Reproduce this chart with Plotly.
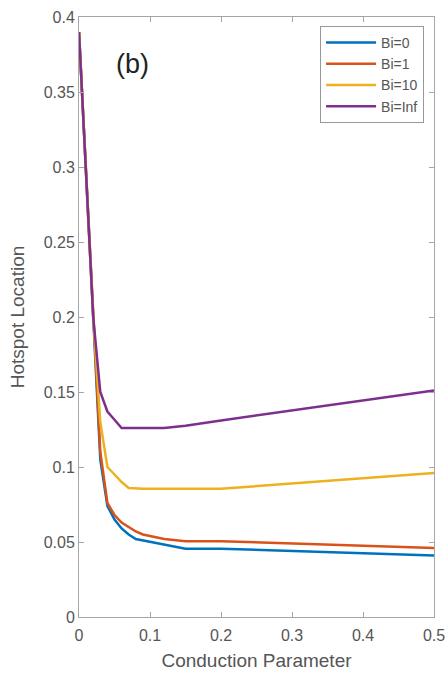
import plotly.graph_objects as go

conduction = [0, 0.02, 0.03, 0.04, 0.05, 0.06, 0.07, 0.08, 0.09, 0.1, 0.12, 0.15, 0.2, 0.5]
bi_0 = [0.39, 0.20, 0.105, 0.074, 0.065, 0.059, 0.055, 0.052, 0.051, 0.050, 0.048, 0.0455, 0.0455, 0.041]
bi_1 = [0.39, 0.20, 0.110, 0.076, 0.068, 0.063, 0.060, 0.057, 0.055, 0.054, 0.052, 0.0505, 0.0505, 0.046]
bi_10 = [0.39, 0.20, 0.130, 0.100, 0.095, 0.090, 0.086, 0.0855, 0.0855, 0.0855, 0.0855, 0.0855, 0.0855, 0.096]
bi_inf = [0.39, 0.20, 0.150, 0.137, 0.1315, 0.126, 0.126, 0.126, 0.126, 0.126, 0.126, 0.1275, 0.131, 0.151]

series_names = ["Bi=0", "Bi=1", "Bi=10", "Bi=Inf"]
series_values = [bi_0, bi_1, bi_10, bi_inf]
colors = ["#0072BD", "#D95319", "#EDB120", "#7E2F8E"]

x_ticks = [0, 0.1, 0.2, 0.3, 0.4, 0.5]
x_tick_labels = ["0", "0.1", "0.2", "0.3", "0.4", "0.5"]
y_ticks = [0, 0.05, 0.1, 0.15, 0.2, 0.25, 0.3, 0.35, 0.4]
y_tick_labels = ["0", "0.05", "0.1", "0.15", "0.2", "0.25", "0.3", "0.35", "0.4"]

fig = go.Figure()
for name, vals, c in zip(series_names, series_values, colors):
    fig.add_trace(go.Scatter(x=conduction, y=vals, mode="lines", name=name,
                             line=dict(color=c, width=2.5)))

font_family = "Liberation Sans, Arial, sans-serif"
axis_common = dict(showgrid=False, zeroline=False, showline=True, linecolor="#a6a6a6",
                   linewidth=1, mirror="ticks", ticks="inside", ticklen=5, automargin=False,
                   tickcolor="#a6a6a6", tickfont=dict(family=font_family, size=16, color="#555555"))

fig.update_layout(
    width=448, height=673,
    margin=dict(l=79, r=14, t=17, b=56),
    paper_bgcolor="white", plot_bgcolor="white",
    font=dict(family=font_family, color="#555555"),
    xaxis=dict(range=[0, 0.5], tickvals=x_ticks, ticktext=x_tick_labels, ticklabelstandoff=4,
               title=dict(text="Conduction Parameter", font=dict(size=19, color="#555555"), standoff=10),
               **axis_common),
    yaxis=dict(range=[0, 0.4], tickvals=y_ticks, ticktext=y_tick_labels,
               title=dict(text="Hotspot Location", font=dict(size=19, color="#555555"), standoff=14),
               **axis_common),
    legend=dict(x=0.972, y=0.985, xanchor="right", yanchor="top",
                bordercolor="#999999", borderwidth=1, bgcolor="white",
                font=dict(family=font_family, size=14, color="#555555"),
                tracegroupgap=0, itemwidth=50),
    showlegend=True,
    annotations=[dict(x=0.075, y=0.369, xref="x", yref="y", text="(b)", showarrow=False,
                      font=dict(family=font_family, size=27, color="#222222"))],
)

fig.write_html("out.html")
